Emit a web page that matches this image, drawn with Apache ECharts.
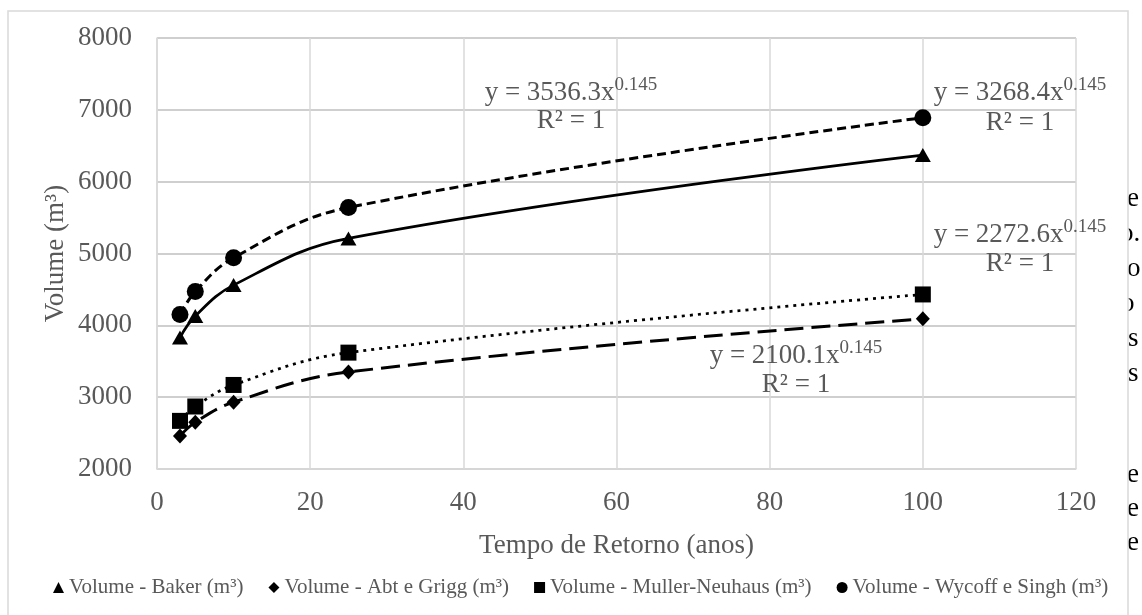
<!DOCTYPE html>
<html>
<head>
<meta charset="utf-8">
<script src="https://cdn.jsdelivr.net/npm/echarts@6/dist/echarts.min.js"></script>
<style>html,body{margin:0;padding:0;background:#fff}#c{width:1142px;height:615px}</style>
</head>
<body>
<div id="c"></div>
<script>
// ---- data ----
const years = [3, 5, 10, 25, 100];
const baker = [3830, 4130, 4560, 5210, 6370];
const abtGrigg = [2460, 2650, 2930, 3350, 4090];
const mullerNeuhaus = [2670, 2870, 3170, 3620, 4430];
const wycoffSingh = [4150, 4470, 4940, 5640, 6890];
const seriesNames = ['Volume - Baker (m³)', 'Volume - Abt e Grigg (m³)', 'Volume - Muller-Neuhaus (m³)', 'Volume - Wycoff e Singh (m³)'];
const xAxisTitle = 'Tempo de Retorno (anos)';
const yAxisTitle = 'Volume (m³)';
const trendEquations = ['y = 3536.3x', 'y = 3268.4x', 'y = 2272.6x', 'y = 2100.1x'];
const trendExponent = '0.145';
const trendR2 = 'R² = 1';
const backgroundLetters = ['e', 'o.', 'o', 'o', 's', 's', 'e', 'e', 'e'];

const FONT = '"Liberation Serif", "Times New Roman", serif';
const GRAY = '#595959';

function pairs(vals) { return years.map((x, i) => [x, vals[i]]); }

const chart = echarts.init(document.getElementById('c'), null, {renderer: 'canvas'});

const styles = [
  {data: baker, symbol: 'triangle', size: [16, 14], line: {type: 'solid', width: 2.75}},
  {data: abtGrigg, symbol: 'diamond', size: [14, 15], line: {type: [19, 8], width: 3}},
  {data: mullerNeuhaus, symbol: 'rect', size: [16, 16], line: {type: [3, 5], width: 2.75}},
  {data: wycoffSingh, symbol: 'circle', size: [17, 17], line: {type: [9, 5], width: 3}}
];

const series = styles.map((s, i) => ({
  name: seriesNames[i],
  type: 'line',
  data: pairs(s.data),
  smooth: 0.4,
  symbol: s.symbol,
  symbolSize: s.size,
  showSymbol: true,
  itemStyle: {color: '#000'},
  lineStyle: Object.assign({color: '#000'}, s.line),
  z: 5
}));

// trend label placements (annotation positions)
const labelPos = [
  {x: 571, y: 91, ry: 121},
  {x: 1020, y: 91, ry: 123},
  {x: 1020, y: 233, ry: 264},
  {x: 796, y: 354, ry: 385}
];

const graphics = [];
graphics.push({
  type: 'rect', z: -10, silent: true,
  shape: {x: 8, y: 11, width: 1120, height: 640},
  style: {fill: '#fff', stroke: '#d9d9d9', lineWidth: 1.5}
});
const letterPos = [[1127, 199], [1120, 234], [1127, 269], [1121, 304], [1128, 339], [1128, 374], [1127, 475], [1127, 509], [1127, 543]];
backgroundLetters.forEach((t, i) => {
  graphics.push({
    type: 'text', z: -20, silent: true,
    x: letterPos[i][0], y: letterPos[i][1],
    style: {text: t, fill: '#000', font: '27px ' + FONT, align: 'left', verticalAlign: 'middle'}
  });
});
trendEquations.forEach((eq, i) => {
  const p = labelPos[i];
  graphics.push({
    type: 'text', z: 10, silent: true,
    x: p.x, y: p.y,
    style: {
      text: '{m|' + eq + '}{s|' + trendExponent + '}',
      align: 'center', verticalAlign: 'middle',
      rich: {
        m: {fontSize: 27, fontFamily: FONT, fill: GRAY, color: GRAY, lineHeight: 30, verticalAlign: 'bottom'},
        s: {fontSize: 19, fontFamily: FONT, fill: GRAY, color: GRAY, lineHeight: 20, verticalAlign: 'top'}
      }
    }
  });
  graphics.push({
    type: 'text', z: 10, silent: true,
    x: p.x, y: p.ry,
    style: {text: trendR2, fill: GRAY, font: '27px ' + FONT, align: 'center', verticalAlign: 'middle'}
  });
});

chart.setOption({
  animation: false,
  textStyle: {fontFamily: FONT},
  grid: {left: 157, right: 66, top: 38, bottom: 146, containLabel: false},
  legend: {
    top: 572, left: 48,
    itemWidth: 11, itemHeight: 11, itemGap: 25,
    textStyle: {fontSize: 21, fontFamily: FONT, color: GRAY},
    data: [
      {name: seriesNames[0], icon: 'triangle'},
      {name: seriesNames[1], icon: 'diamond'},
      {name: seriesNames[2], icon: 'rect'},
      {name: seriesNames[3], icon: 'circle'}
    ],
    itemStyle: {color: '#000'}
  },
  xAxis: {
    type: 'value', min: 0, max: 120, interval: 20,
    name: xAxisTitle, nameLocation: 'middle', nameGap: 63, nameMoveOverlap: false,
    nameTextStyle: {fontSize: 27, fontFamily: FONT, color: GRAY},
    axisLine: {show: true, lineStyle: {color: '#d9d9d9', width: 1.5}},
    axisTick: {show: false},
    splitLine: {show: true, lineStyle: {color: '#d9d9d9', width: 1.5}},
    axisLabel: {fontSize: 27, fontFamily: FONT, color: GRAY, margin: 20, formatter: v => String(v)}
  },
  yAxis: {
    type: 'value', min: 2000, max: 8000, interval: 1000,
    name: yAxisTitle, nameLocation: 'middle', nameGap: 88, nameMoveOverlap: false,
    nameTextStyle: {fontSize: 27, fontFamily: FONT, color: GRAY},
    axisLine: {show: true, lineStyle: {color: '#d9d9d9', width: 1.5}},
    axisTick: {show: false},
    splitLine: {show: true, lineStyle: {color: '#bfbfbf', width: 1.5}},
    axisLabel: {fontSize: 27, fontFamily: FONT, color: GRAY, margin: 25, formatter: v => String(v)}
  },
  graphic: graphics,
  series: series
});
</script>
</body>
</html>
